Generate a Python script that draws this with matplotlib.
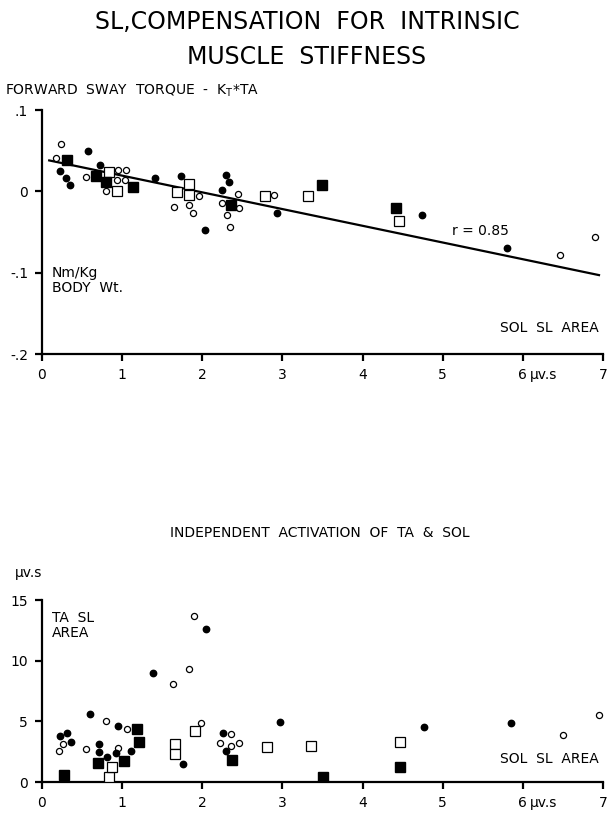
import matplotlib
matplotlib.use("Agg")
import matplotlib.pyplot as plt

# ---- top panel: forward sway torque vs SOL SL area ----
top_open_circ_x = [0.24, 0.17, 0.55, 0.80, 0.95, 1.05, 0.93, 1.04, 1.65, 1.84, 1.89, 1.96,
                   2.24, 2.44, 2.46, 2.31, 2.34, 2.90, 6.46, 6.90]
top_open_circ_y = [0.058, 0.041, 0.018, 0.000, 0.026, 0.026, 0.014, 0.014, -0.019, -0.017, -0.027, -0.006,
                   -0.014, -0.003, -0.020, -0.029, -0.044, -0.004, -0.078, -0.056]
top_fill_circ_x = [0.58, 0.23, 0.30, 0.35, 0.72, 1.41, 1.74, 2.04, 2.30, 2.33, 2.24, 2.93, 4.74, 5.80]
top_fill_circ_y = [0.050, 0.025, 0.016, 0.008, 0.032, 0.016, 0.019, -0.048, 0.020, 0.011, 0.002, -0.027,
                   -0.029, -0.070]
top_fill_sq_x = [0.31, 0.68, 0.80, 1.13, 2.36, 3.49, 4.42]
top_fill_sq_y = [0.038, 0.019, 0.011, 0.005, -0.017, 0.008, -0.021]
top_open_sq_x = [0.83, 0.94, 1.68, 1.84, 1.84, 2.78, 3.32, 4.46]
top_open_sq_y = [0.024, 0.000, -0.001, 0.009, -0.005, -0.006, -0.006, -0.036]
fit_x = [0.09, 6.95]
fit_y = [0.038, -0.103]

# ---- bottom panel: TA SL area vs SOL SL area ----
bot_fill_circ_x = [0.23, 0.31, 0.36, 0.60, 0.71, 0.71, 0.81, 0.95, 0.92, 1.11, 1.76, 2.26, 2.29,
                   2.97, 4.77, 5.85, 1.39, 2.05]
bot_fill_circ_y = [3.8, 4.0, 3.3, 5.6, 3.1, 2.5, 2.1, 4.6, 2.35, 2.55, 1.45, 4.0, 2.55,
                   4.95, 4.55, 4.85, 9.0, 12.6]
bot_open_circ_x = [0.21, 0.26, 0.55, 0.80, 0.95, 1.06, 1.98, 2.22, 2.36, 2.36, 2.46, 6.50, 6.95,
                   1.90, 1.84, 1.64]
bot_open_circ_y = [2.55, 3.1, 2.75, 5.0, 2.8, 4.4, 4.85, 3.2, 3.95, 2.95, 3.25, 3.9, 5.5,
                   13.7, 9.3, 8.1]
bot_fill_sq_x = [0.27, 0.70, 1.02, 1.18, 1.21, 2.37, 3.50, 4.47]
bot_fill_sq_y = [0.6, 1.6, 1.75, 4.35, 3.3, 1.85, 0.45, 1.2]
bot_open_sq_x = [0.83, 0.87, 1.66, 1.66, 1.91, 2.81, 3.36, 4.47]
bot_open_sq_y = [0.4, 1.25, 3.15, 2.3, 4.2, 2.9, 2.95, 3.3]

x_ticks = [0, 1, 2, 3, 4, 5, 6, 7]
top_yticks = [-0.2, -0.1, 0, 0.1]
top_ylabels = ["-.2", "-.1", "0", ".1"]
bot_yticks = [0, 5, 10, 15]
unit = "\u03bcv.s"

W, H = 614, 818
fig = plt.figure(figsize=(W / 100, H / 100), dpi=100)


def style_axes(ax):
    for s in ("top", "right"):
        ax.spines[s].set_visible(False)
    for s in ("left", "bottom"):
        ax.spines[s].set_linewidth(1.6)
    ax.set_xlim(0, 7)
    ax.set_xticks(x_ticks)
    ax.set_xticklabels([str(t) for t in x_ticks])
    ax.tick_params(direction="out", length=5, width=1.6, labelsize=10, pad=5)
    # unit written just after the "6" tick label
    ax.annotate(unit, xy=(6, 0), xycoords=("data", "axes fraction"), xytext=(5, -10),
                textcoords="offset points", fontsize=10, ha="left", va="top")


def draw_points(ax, fc_x, fc_y, oc_x, oc_y, fs_x, fs_y, os_x, os_y):
    ax.plot(oc_x, oc_y, "o", ms=4.4, mfc="white", mec="black", mew=0.9, ls="none", zorder=3)
    ax.plot(fc_x, fc_y, "o", ms=4.6, mfc="black", mec="black", ls="none", zorder=3)
    ax.plot(os_x, os_y, "s", ms=7.0, mfc="white", mec="black", mew=0.9, ls="none", zorder=3)
    ax.plot(fs_x, fs_y, "s", ms=7.0, mfc="black", mec="black", ls="none", zorder=3)


# top
ax1 = fig.add_axes([42 / W, 1 - 354 / H, 561 / W, 244 / H])
style_axes(ax1)
ax1.set_ylim(-0.2, 0.1)
ax1.set_yticks(top_yticks)
ax1.set_yticklabels(top_ylabels)
ax1.plot(fit_x, fit_y, color="black", lw=1.6, zorder=2)
draw_points(ax1, top_fill_circ_x, top_fill_circ_y, top_open_circ_x, top_open_circ_y,
            top_fill_sq_x, top_fill_sq_y, top_open_sq_x, top_open_sq_y)
ax1.text(5.12, -0.054, "r = 0.85", fontsize=10)
ax1.text(0.12, -0.11, "Nm/Kg\nBODY  Wt.", fontsize=10, va="center", linespacing=1.1)
ax1.text(6.95, -0.168, "SOL  SL  AREA", fontsize=10, ha="right", va="center")

# bottom
ax2 = fig.add_axes([42 / W, 1 - 782 / H, 561 / W, 182 / H])
style_axes(ax2)
ax2.set_ylim(0, 15)
ax2.set_yticks(bot_yticks)
draw_points(ax2, bot_fill_circ_x, bot_fill_circ_y, bot_open_circ_x, bot_open_circ_y,
            bot_fill_sq_x, bot_fill_sq_y, bot_open_sq_x, bot_open_sq_y)
ax2.text(0.12, 12.9, "TA  SL\nAREA", fontsize=10, va="center", linespacing=1.1)
ax2.text(6.95, 1.9, "SOL  SL  AREA", fontsize=10, ha="right", va="center")

# titles
fig.text(0.5, 1 - 22 / H, "SL,COMPENSATION  FOR  INTRINSIC", fontsize=17, ha="center", va="center")
fig.text(0.5, 1 - 57 / H, "MUSCLE  STIFFNESS", fontsize=17, ha="center", va="center")
fig.text(5 / W, 1 - 91 / H, "FORWARD  SWAY  TORQUE  -  K$_\\mathrm{T}$*TA", fontsize=10,
         ha="left", va="center")
fig.text(320 / W, 1 - 533 / H, "INDEPENDENT  ACTIVATION  OF  TA  &  SOL", fontsize=10,
         ha="center", va="center")
fig.text(15 / W, 1 - 573 / H, unit, fontsize=10, ha="left", va="center")

fig.savefig("out.png", dpi=100)
